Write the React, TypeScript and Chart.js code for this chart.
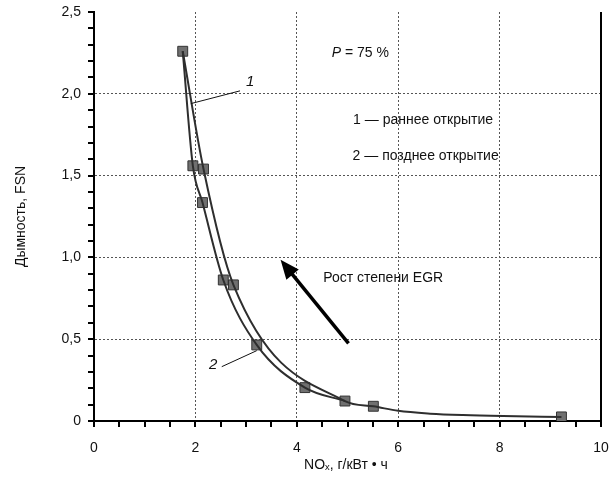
import React, { useEffect, useRef } from "react";
import { Chart, registerables } from "chart.js";

Chart.register(...registerables);

// Measured points (squares)
const marker_x = [1.75, 1.95, 2.16, 2.14, 2.55, 2.75, 3.21, 4.16, 4.95, 5.51, 9.22];
const marker_y = [2.26, 1.56, 1.54, 1.335, 0.862, 0.832, 0.465, 0.204, 0.122, 0.09, 0.025];

// Curve 1 — early opening (раннее открытие)
const early_x = [1.75, 2.16, 2.75, 4.95, 5.51, 6.0, 6.63, 7.28, 8.07, 9.22];
const early_y = [2.26, 1.54, 0.832, 0.122, 0.09, 0.062, 0.045, 0.036, 0.03, 0.025];
// Curve 2 — late opening (позднее открытие)
const late_x = [1.75, 1.95, 2.14, 2.55, 3.21, 4.16, 4.95];
const late_y = [2.26, 1.56, 1.335, 0.862, 0.465, 0.204, 0.122];

const xTicks = [0, 2, 4, 6, 8, 10];
const yTicks = [0, 0.5, 1.0, 1.5, 2.0, 2.5];
const xTickLabels = ["0", "2", "4", "6", "8", "10"];
const yTickLabels = ["0", "0,5", "1,0", "1,5", "2,0", "2,5"];

const FONT = "'Liberation Sans', Arial, sans-serif";

const toPts = (xs: number[], ys: number[]) => xs.map((x, i) => ({ x, y: ys[i] }));

const decor = {
  id: "decor",
  afterDatasetsDraw(chart: any) {
    const { ctx, chartArea, scales } = chart;
    const xs = scales.x;
    const ys = scales.y;
    const X = (v: number) => xs.getPixelForValue(v);
    const Y = (v: number) => ys.getPixelForValue(v);
    ctx.save();
    // right border
    ctx.strokeStyle = "#000";
    ctx.lineWidth = 2;
    ctx.beginPath();
    ctx.moveTo(chartArea.right, chartArea.top);
    ctx.lineTo(chartArea.right, chartArea.bottom);
    ctx.stroke();
    // minor/major ticks
    ctx.lineWidth = 2;
    ctx.beginPath();
    for (let i = 0; i <= 20; i++) {
      const px = Math.round(X(i * 0.5));
      ctx.moveTo(px, chartArea.bottom);
      ctx.lineTo(px, chartArea.bottom + 6);
    }
    for (let i = 0; i <= 25; i++) {
      const py = Math.round(Y(i * 0.1));
      ctx.moveTo(chartArea.left, py);
      ctx.lineTo(chartArea.left - 6, py);
    }
    ctx.stroke();

    // tick labels
    ctx.fillStyle = "#111";
    ctx.font = `14px ${FONT}`;
    ctx.textBaseline = "middle";
    ctx.textAlign = "center";
    xTicks.forEach((v, i) => ctx.fillText(xTickLabels[i], X(v), chartArea.bottom + 27));
    ctx.textAlign = "right";
    yTicks.forEach((v, i) => ctx.fillText(yTickLabels[i], chartArea.left - 13, Y(v)));

    // annotations
    ctx.textAlign = "left";
    ctx.font = `italic 14px ${FONT}`;
    const px0 = X(4.69);
    ctx.fillText("P", px0, Y(2.25));
    const pw = ctx.measureText("P").width;
    ctx.font = `14px ${FONT}`;
    ctx.fillText(" = 75 %", px0 + pw, Y(2.25));
    ctx.fillText("1 — раннее открытие", X(5.11), Y(1.84));
    ctx.fillText("2 — позднее открытие", X(5.1), Y(1.617));
    ctx.fillText("Рост степени EGR", X(4.52), Y(0.873));

    // curve labels
    ctx.font = `italic 15px ${FONT}`;
    ctx.textAlign = "center";
    ctx.fillText("1", X(3.08), Y(2.075));
    ctx.fillText("2", X(2.35), Y(0.343));
    ctx.lineWidth = 1;
    ctx.strokeStyle = "#111";
    ctx.beginPath();
    ctx.moveTo(X(2.88), Y(2.018));
    ctx.lineTo(X(1.91), Y(1.94));
    ctx.moveTo(X(2.52), Y(0.332));
    ctx.lineTo(X(3.21), Y(0.43));
    ctx.stroke();

    // arrow
    const tx = X(5.02), ty = Y(0.475), hx = X(3.68), hy = Y(0.985);
    const ang = Math.atan2(hy - ty, hx - tx);
    const hl = 19, hw = 8;
    const bx = hx - hl * Math.cos(ang), by = hy - hl * Math.sin(ang);
    ctx.lineWidth = 3.5;
    ctx.strokeStyle = "#000";
    ctx.beginPath();
    ctx.moveTo(tx, ty);
    ctx.lineTo(bx + 2 * Math.cos(ang), by + 2 * Math.sin(ang));
    ctx.stroke();
    ctx.fillStyle = "#000";
    ctx.beginPath();
    ctx.moveTo(hx, hy);
    ctx.lineTo(bx + hw * Math.sin(ang), by - hw * Math.cos(ang));
    ctx.lineTo(bx - hw * Math.sin(ang), by + hw * Math.cos(ang));
    ctx.closePath();
    ctx.fill();

    // axis titles
    ctx.fillStyle = "#111";
    ctx.font = `14px ${FONT}`;
    ctx.textAlign = "center";
    ctx.save();
    ctx.translate(21, (chartArea.top + chartArea.bottom) / 2);
    ctx.rotate(-Math.PI / 2);
    ctx.fillText("Дымность, FSN", 0, 0);
    ctx.restore();
    ctx.fillText("NOₓ, г/кВт • ч", 346, 465);
    ctx.restore();
  },
};

export default function App() {
  const ref = useRef<HTMLCanvasElement>(null);
  useEffect(() => {
    document.body.style.margin = "0";
    const canvas = ref.current!;
    const curve = {
      borderColor: "#2e2e2e",
      borderWidth: 2,
      pointRadius: 0,
      cubicInterpolationMode: "monotone",
      fill: false,
    };
    const chart = new Chart(canvas, {
      type: "line",
      data: {
        datasets: [
          { label: "1", data: toPts(early_x, early_y), ...curve },
          { label: "2", data: toPts(late_x, late_y), ...curve },
          {
            label: "points",
            data: toPts(marker_x, marker_y),
            showLine: false,
            pointStyle: "rect",
            pointRadius: 7,
            pointBackgroundColor: "#707070",
            pointBorderColor: "#333",
            pointBorderWidth: 1,
          },
        ],
      },
      options: {
        responsive: false,
        animation: false,
        layout: { padding: { left: 0, right: 9, top: 12, bottom: 0 } },
        plugins: { legend: { display: false }, tooltip: { enabled: false } },
        scales: {
          x: {
            type: "linear",
            min: 0,
            max: 10,
            afterBuildTicks: (s: any) => { s.ticks = xTicks.map((v) => ({ value: v })); },
            afterFit: (s: any) => { s.height = 64; },
            ticks: { display: false },
            grid: {
              drawTicks: false,
              lineWidth: 1,
              color: (c: any) => (c.tick && (c.tick.value === 0 || c.tick.value === 10) ? "rgba(0,0,0,0)" : "#555"),
            },
            border: { display: true, color: "#000", width: 2, dash: [2, 2] },
          },
          y: {
            type: "linear",
            min: 0,
            max: 2.5,
            afterBuildTicks: (s: any) => { s.ticks = yTicks.map((v) => ({ value: v })); },
            afterFit: (s: any) => { s.width = 94; },
            ticks: { display: false },
            grid: {
              drawTicks: false,
              lineWidth: 1,
              color: (c: any) => (c.tick && (c.tick.value === 0 || c.tick.value === 2.5) ? "rgba(0,0,0,0)" : "#555"),
            },
            border: { display: true, color: "#000", width: 2, dash: [2, 2] },
          },
        },
      },
      plugins: [decor],
    } as any);
    return () => chart.destroy();
  }, []);
  return (
    <div style={{ width: 610, height: 485, background: "#fff" }}>
      <canvas ref={ref} width={610} height={485} />
    </div>
  );
}
